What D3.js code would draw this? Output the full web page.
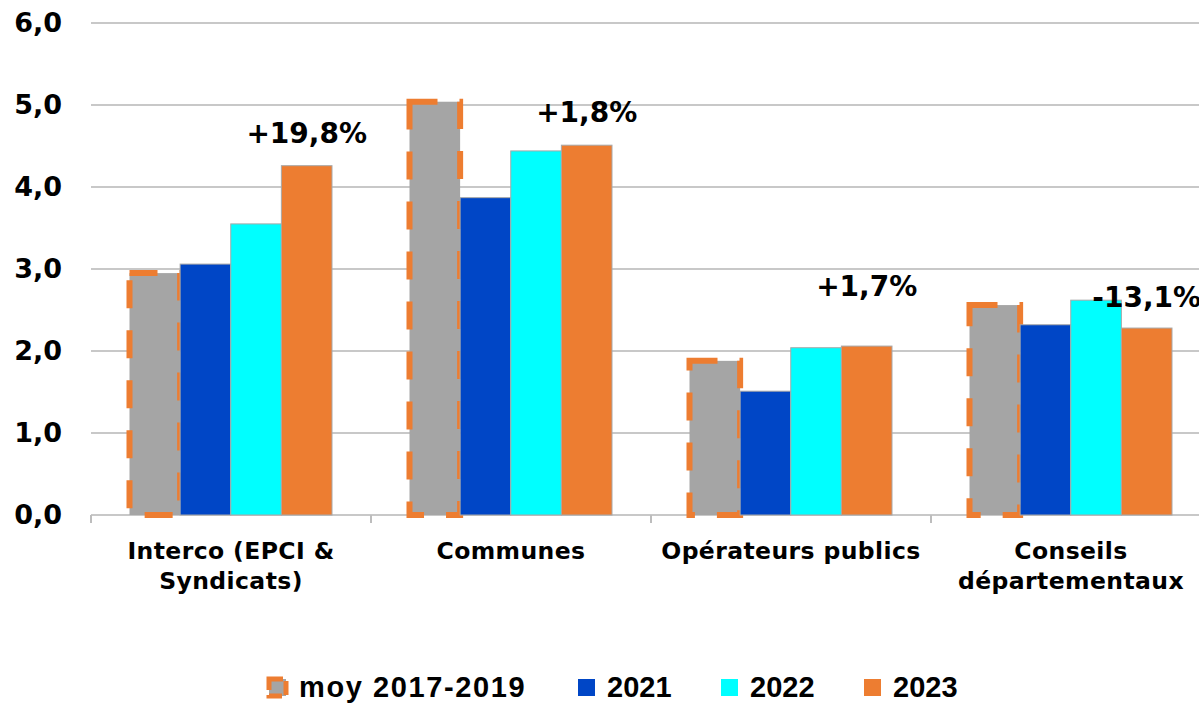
<!DOCTYPE html>
<html>
<head>
<meta charset="utf-8">
<script src="https://cdn.jsdelivr.net/npm/d3@7"></script>
<style>
  body { margin: 0; background: #fff; }
  svg { display: block; }
</style>
</head>
<body>
<div id="chart"></div>
<script>
// data
const categories = [["Interco (EPCI &", "Syndicats)"], ["Communes"], ["Opérateurs publics"], ["Conseils", "départementaux"]];
const series = ["moy 2017-2019", "2021", "2022", "2023"];
const moy = [2.95, 5.04, 1.88, 2.56];
const y2021 = [3.06, 3.87, 1.51, 2.32];
const y2022 = [3.55, 4.44, 2.04, 2.62];
const y2023 = [4.26, 4.51, 2.06, 2.28];
const changes = ["+19,8%", "+1,8%", "+1,7%", "-13,1%"];
const yTicks = [0, 1, 2, 3, 4, 5, 6];

const colors = ["#A5A5A5", "#0046C6", "#00FFFF", "#ED7D31"];
const labelLift = [23, 23, 50, 21]; // px above the 2023 bar, as in the original

const width = 1199, height = 703;
const margin = { top: 23, left: 91, bottom: 188 };

const svg = d3.select("#chart").append("svg")
  .attr("width", width)
  .attr("height", height);

const rows = categories.map((c, i) => ({ cat: i, values: [moy[i], y2021[i], y2022[i], y2023[i]] }));

const x0 = d3.scaleBand()
  .domain(d3.range(categories.length))
  .range([margin.left, margin.left + 4 * 280])
  .padding(0);

const x1 = d3.scaleBand()
  .domain(d3.range(series.length))
  .range([38.5, 241])
  .padding(0);

const y = d3.scaleLinear()
  .domain([0, 6])
  .range([height - margin.bottom, margin.top]);

const fmt = v => d3.format(".1f")(v).replace(".", ",");

// grid lines
svg.append("g")
  .selectAll("line")
  .data(yTicks)
  .enter().append("line")
    .attr("x1", margin.left)
    .attr("x2", width)
    .attr("y1", d => y(d))
    .attr("y2", d => y(d))
    .attr("stroke", "#C8C8C8")
    .attr("stroke-width", 2);

// y axis labels
let axisY = svg.append("g")
  .attr("transform", `translate(${margin.left},0)`)
  .call(d3.axisLeft(y).tickValues(yTicks).tickFormat(fmt).tickSize(0).tickPadding(29));
axisY.select(".domain").remove();
axisY.selectAll("text")
  .attr("font-family", "'DejaVu Sans', Verdana, sans-serif")
  .attr("font-weight", "bold")
  .attr("font-size", 27)
  .attr("fill", "#000");

// x axis ticks at category boundaries
svg.append("g")
  .selectAll("line")
  .data(d3.range(categories.length + 1))
  .enter().append("line")
    .attr("x1", d => margin.left + d * x0.bandwidth())
    .attr("x2", d => margin.left + d * x0.bandwidth())
    .attr("y1", y(0))
    .attr("y2", y(0) + 8)
    .attr("stroke", "#BDBDBD")
    .attr("stroke-width", 2);

// bars
let group = svg.selectAll("g.cat")
  .data(rows)
  .enter()
  .append("g")
    .attr("class", "cat")
    .attr("transform", d => `translate(${x0(d.cat)},0)`);

group.selectAll("rect")
  .data(d => d.values)
  .enter().append("rect")
    .attr("x", (d, i) => x1(i))
    .attr("y", d => y(d))
    .attr("width", x1.bandwidth())
    .attr("height", d => y(0) - y(d))
    .attr("fill", (d, i) => colors[i])
    .attr("stroke", (d, i) => i === 0 ? "#ED7D31" : "#A8A8A8")
    .attr("stroke-width", (d, i) => i === 0 ? 6 : 1)
    .attr("stroke-dasharray", (d, i) => i === 0 ? "28,22" : null);

// the dashed outline sits under the next bar, like in the original
group.each(function () {
  let rects = d3.select(this).selectAll("rect").nodes();
  this.appendChild(rects[1]);
  this.appendChild(rects[2]);
  this.appendChild(rects[3]);
});

// change labels over the 2023 bars
svg.append("g")
  .selectAll("text")
  .data(changes)
  .enter().append("text")
    .attr("x", (d, i) => x0(i) + x1(3) + x1.bandwidth() / 2)
    .attr("y", (d, i) => y(y2023[i]) - labelLift[i])
    .attr("text-anchor", "middle")
    .attr("font-family", "'DejaVu Sans', Verdana, sans-serif")
    .attr("font-weight", "bold")
    .attr("font-size", 28)
    .attr("fill", "#000")
    .text(d => d);

// category labels
let catLabels = svg.append("g")
  .selectAll("text")
  .data(categories)
  .enter().append("text")
    .attr("x", (d, i) => x0(i) + x0.bandwidth() / 2)
    .attr("y", y(0) + 44)
    .attr("text-anchor", "middle")
    .attr("font-family", "'DejaVu Sans', Verdana, sans-serif")
    .attr("font-weight", "bold")
    .attr("font-size", 23.5)
    .attr("letter-spacing", 0.4)
    .attr("fill", "#000");

catLabels.selectAll("tspan")
  .data(d => d)
  .enter().append("tspan")
    .attr("x", function () { return this.parentNode.getAttribute("x"); })
    .attr("dy", (d, i) => i === 0 ? 0 : 30)
    .text(d => d);

// legend
const legendX = [268, 578, 721, 864];
let legend = svg.append("g")
  .selectAll("g")
  .data(series)
  .enter().append("g")
    .attr("transform", (d, i) => `translate(${legendX[i]},679)`);

legend.append("rect")
  .attr("x", (d, i) => i === 0 ? 1 : 0)
  .attr("y", (d, i) => i === 0 ? 0 : 0)
  .attr("width", 17)
  .attr("height", 17)
  .attr("fill", (d, i) => colors[i])
  .attr("stroke", (d, i) => i === 0 ? "#ED7D31" : "none")
  .attr("stroke-width", 5)
  .attr("stroke-dasharray", "14,5");

legend.append("text")
  .attr("x", (d, i) => i === 0 ? 31 : 29)
  .attr("y", 18)
  .attr("font-family", "'Liberation Sans', Arial, sans-serif")
  .attr("font-weight", "bold")
  .attr("font-size", 29)
  .attr("letter-spacing", (d, i) => i === 0 ? 1.6 : 0)
  .attr("fill", "#000")
  .text(d => d);
</script>
</body>
</html>
